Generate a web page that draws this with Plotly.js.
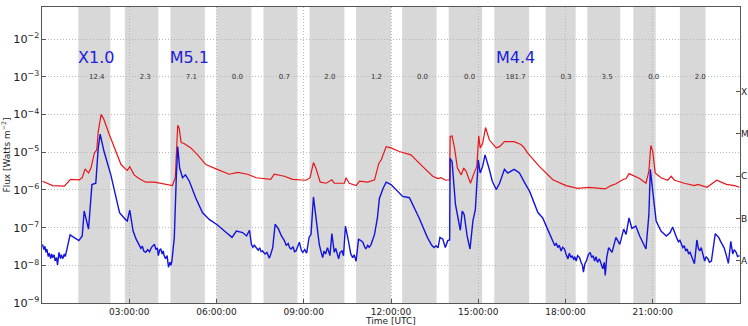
<!DOCTYPE html>
<html>
<head>
<meta charset="utf-8">
<script src="https://cdn.plot.ly/plotly-3.0.1.min.js"></script>
<style>
html,body{margin:0;padding:0;background:#fff;}
#chart{width:748px;height:326px;}
</style>
</head>
<body>
<div id="chart"></div>
<script>
const DAY = '2013-10-28 ';

// GOES long channel (1-8 Å), red
const longTimes = ['00:01','00:22','00:46','00:59','01:17','01:23','01:29','01:36','01:41','01:48','01:53','01:56','02:02','02:07','02:19','02:29','02:43','02:52','02:56','03:01','03:10','03:20','03:34','03:52','04:12','04:29','04:35','04:40','04:43','04:47','04:53','05:07','05:21','05:38','05:59','06:26','06:44','07:04','07:22','07:52','07:59','08:10','08:20','08:37','09:05','09:13','09:20','09:25','09:34','09:46','09:58','10:03','10:24','10:27','10:34','10:48','10:55','11:12','11:26','11:35','11:40','11:50','12:00','12:17','12:41','13:05','13:26','13:37','13:43','13:53','14:01','14:02','14:06','14:11','14:17','14:25','14:30','14:35','14:44','14:50','14:57','15:01','15:04','15:09','15:15','15:23','15:37','15:44','15:54','16:14','16:28','16:35','16:42','17:06','17:34','18:01','18:25','18:49','19:07','19:22','19:34','19:44','19:58','20:05','20:11','20:19','20:33','20:46','20:52','20:56','21:00','21:05','21:17','21:31','21:38','21:45','22:05','22:26','22:33','22:52','23:12','23:32','23:49','23:59'];
const longFlux = [1.7e-6,1.3e-6,1.25e-6,1.9e-6,1.85e-6,2.1e-6,3.6e-6,2.8e-6,3.8e-6,9.4e-6,1.15e-5,3.5e-5,1.0e-4,7.8e-5,2.9e-5,1.4e-5,4.7e-6,3.6e-6,3.3e-6,4.1e-6,2.5e-6,2.0e-6,1.6e-6,1.6e-6,1.45e-6,1.3e-6,2.1e-6,5.2e-5,4.3e-5,1.8e-5,1.7e-5,1.3e-5,8.5e-6,4.7e-6,3.6e-6,2.6e-6,2.9e-6,2.6e-6,2.1e-6,1.9e-6,2.6e-6,2.4e-6,2.3e-6,1.9e-6,1.8e-6,2.1e-6,5.3e-6,3.8e-6,1.6e-6,1.5e-6,1.85e-6,1.5e-6,1.5e-6,2.1e-6,1.5e-6,1.3e-6,1.7e-6,1.6e-6,1.85e-6,5.1e-6,6.3e-6,1.4e-5,1.3e-5,1.04e-5,8.5e-6,4.2e-6,2.3e-6,2.0e-6,2.1e-6,1.8e-6,1.85e-6,2.6e-5,2.7e-5,1.3e-5,3.8e-6,2.5e-6,3.8e-6,3.1e-6,1.5e-6,2.5e-6,4.2e-6,2.7e-5,1.3e-5,1.7e-5,4.5e-5,2.1e-5,1.3e-5,1.4e-5,1.9e-5,1.9e-5,1.6e-5,1.3e-5,9.4e-6,4.2e-6,1.85e-6,1.3e-6,1.1e-6,1.17e-6,1.1e-6,1.06e-6,1.3e-6,1.45e-6,1.85e-6,2.0e-6,2.7e-6,2.4e-6,2.0e-6,1.5e-6,3.1e-6,1.5e-5,1.05e-5,2.8e-6,2.1e-6,1.8e-6,2.3e-6,1.8e-6,1.5e-6,1.3e-6,1.4e-6,1.17e-6,1.8e-6,1.4e-6,1.3e-6,1.17e-6];

// GOES short channel (0.5-4 Å), blue: [time, flux]
const shortSeries = [
['00:01',3.6e-8],['00:04',2.6e-8],['00:06',3.2e-8],['00:08',2.2e-8],['00:10',2.7e-8],['00:13',1.7e-8],['00:15',2.1e-8],['00:18',1.5e-8],['00:20',2.0e-8],['00:22',1.6e-8],['00:25',1.9e-8],['00:27',1.3e-8],['00:30',1.6e-8],['00:32',1.03e-8],['00:35',2.2e-8],['00:38',1.5e-8],['00:40',1.9e-8],['00:43',1.5e-8],['00:46',2.0e-8],['00:48',1.7e-8],
['00:58',6.4e-8],['01:07',5.5e-8],['01:16',4.5e-8],['01:23',6.0e-8],['01:27',2.75e-7],['01:36',9.1e-8],['01:43',1.38e-6],['01:51',1.5e-6],['01:56',1.3e-5],['02:00',3.0e-5],['02:08',1.04e-5],['02:22',2.5e-6],['02:32',6.2e-7],['02:40',2.5e-7],['02:52',1.65e-7],['02:56',1.5e-7],['03:01',2.9e-7],['03:08',8.1e-8],['03:14',5.0e-8],
['03:20',3.6e-8],['03:24',2.8e-8],['03:27',3.2e-8],['03:30',2.4e-8],['03:34',2.2e-8],['03:38',2.6e-8],['03:42',2.3e-8],['03:46',3.0e-8],['03:52',3.6e-8],['03:55',2.6e-8],['03:58',2.9e-8],['04:00',1.8e-8],['04:03',2.6e-8],['04:05',2.7e-8],['04:08',2.0e-8],['04:10',2.4e-8],['04:12',1.8e-8],['04:15',1.5e-8],['04:18',1.8e-8],['04:21',8.9e-9],['04:24',1.2e-8],['04:26',1.0e-8],['04:28',1.3e-8],
['04:33',5.5e-8],['04:37',2.1e-6],['04:40',1.4e-5],['04:44',3.8e-6],['04:50',2.1e-6],['04:56',2.5e-6],['05:04',1.7e-6],['05:17',6.2e-7],['05:31',2.5e-7],['05:45',1.65e-7],['06:02',1.17e-7],['06:20',7.4e-8],['06:32',5.5e-8],['06:41',8.1e-8],['06:54',7.4e-8],['07:02',6.0e-8],['07:08',8.5e-8],
['07:12',3.6e-8],['07:15',3.0e-8],['07:18',3.4e-8],['07:22',2.9e-8],['07:26',2.5e-8],['07:29',2.9e-8],['07:32',2.3e-8],['07:35',2.4e-8],['07:40',2.0e-8],['07:44',2.2e-8],['07:49',1.55e-8],['07:52',2.0e-8],['07:56',2.95e-8],['08:01',1.23e-7],['08:08',9.1e-8],['08:14',6.0e-8],['08:20',4.5e-8],['08:24',3.4e-8],['08:28',3.8e-8],['08:31',2.9e-8],['08:34',2.7e-8],['08:38',3.1e-8],['08:41',2.3e-8],['08:44',2.4e-8],['08:47',3.2e-8],['08:51',4.1e-8],['08:55',2.5e-8],['08:58',2.2e-8],['09:02',2.6e-8],['09:06',2.1e-8],
['09:11',5.5e-8],['09:15',6.6e-8],['09:20',6.5e-7],['09:26',1.8e-7],['09:32',3.6e-8],['09:36',2.2e-8],['09:39',1.6e-8],['09:42',2.4e-8],['09:45',2.0e-8],['09:49',2.95e-8],['09:54',1.8e-8],['09:58',6.9e-8],['10:03',2.2e-8],['10:06',2.8e-8],['10:09',1.9e-8],['10:12',1.48e-8],['10:15',2.2e-8],['10:19',2.4e-8],['10:22',1.8e-8],['10:26',1.1e-7],['10:32',4.5e-8],['10:37',2.0e-8],['10:41',1.6e-8],['10:44',1.9e-8],['10:48',1.28e-8],['10:53',4.9e-8],['10:57',4.6e-8],['11:02',4.1e-8],['11:05',3.2e-8],['11:08',2.7e-8],['11:12',3.4e-8],['11:15',3.0e-8],['11:19',3.6e-8],
['11:26',6.6e-8],['11:32',1.8e-7],['11:36',5.9e-7],['11:44',1.12e-6],['11:50',1.6e-6],['12:00',1.38e-6],['12:13',9.1e-7],['12:18',7.8e-7],['12:24',6.7e-7],['12:38',6.2e-7],['12:58',1.8e-7],['13:15',5.5e-8],['13:20',4.0e-8],['13:24',3.4e-8],['13:29',2.95e-8],['13:33',3.3e-8],['13:37',2.9e-8],['13:41',5.5e-8],['13:47',4.9e-8],['13:52',2.95e-8],['13:57',4.5e-8],['14:01',4.7e-8],
['14:02',6.9e-6],['14:06',5.6e-6],['14:13',4.1e-7],['14:20',1.23e-7],['14:23',8.5e-8],['14:27',2.75e-7],['14:31',2.2e-7],['14:37',6.0e-8],['14:43',2.7e-8],['14:49',1.5e-7],['14:54',3.0e-7],['15:00',6.3e-6],['15:04',2.8e-6],['15:09',4.2e-6],['15:14',8.5e-6],['15:22',3.8e-6],['15:29',1.7e-6],['15:37',1.02e-6],['15:44',1.5e-6],['15:54',3.5e-6],['16:01',2.8e-6],['16:14',3.5e-6],['16:25',2.8e-6],['16:35',1.6e-6],['16:46',9.1e-7],['17:03',2.5e-7],['17:13',1.8e-7],['17:23',9.1e-8],
['17:34',4.1e-8],['17:38',3.3e-8],['17:41',3.9e-8],['17:44',2.95e-8],['17:47',3.4e-8],['17:51',2.4e-8],['17:54',3.0e-8],['17:58',2.7e-8],['18:01',2.0e-8],['18:05',1.48e-8],['18:08',2.1e-8],['18:11',1.6e-8],['18:14',1.8e-8],['18:17',1.4e-8],['18:19',1.7e-8],['18:22',1.3e-8],['18:25',1.8e-8],['18:29',1.6e-8],['18:32',1.2e-8],['18:35',1.0e-8],['18:37',6.6e-9],['18:40',1.1e-8],['18:43',1.3e-8],['18:47',1.9e-8],['18:51',2.2e-8],['18:54',1.6e-8],['18:57',1.8e-8],['19:00',1.3e-8],['19:03',1.7e-8],['19:06',1.2e-8],['19:10',1.48e-8],['19:13',1.1e-8],['19:17',8.1e-9],['19:20',1.2e-8],['19:22',5.4e-9],['19:25',1.6e-8],
['19:29',2.95e-8],['19:36',2.2e-8],['19:44',5.5e-8],['19:52',3.6e-8],['20:00',9.1e-8],['20:05',6.6e-8],['20:11',1.8e-7],['20:17',9.5e-8],['20:25',1.1e-7],['20:33',6.0e-8],['20:41',3.8e-8],['20:46',2.7e-8],['20:52',2.2e-7],['20:55',3.5e-6],['21:00',9.1e-7],['21:07',1.5e-7],['21:17',8.1e-8],['21:28',6.0e-8],['21:36',7.4e-8],['21:41',1.04e-7],
['21:49',5.5e-8],['21:53',4.2e-8],['21:56',4.6e-8],['21:59',3.4e-8],['22:02',2.95e-8],['22:05',3.3e-8],['22:08',2.4e-8],['22:11',2.7e-8],['22:14',2.0e-8],['22:17',2.2e-8],['22:19',1.8e-8],['22:22',1.5e-8],['22:26',1.1e-8],['22:31',4.7e-8],['22:34',2.8e-8],['22:37',2.4e-8],['22:40',2.95e-8],['22:44',1.8e-8],['22:47',1.3e-8],['22:50',1.7e-8],['22:54',1.48e-8],['22:57',1.2e-8],['23:01',1.3e-8],['23:09',6.9e-8],['23:16',5.5e-8],['23:20',4.3e-8],['23:24',3.5e-8],['23:27',2.95e-8],['23:31',2.0e-8],['23:34',1.5e-8],['23:36',1.12e-8],['23:41',4.3e-8],['23:45',2.0e-8],['23:48',2.6e-8],['23:52',2.2e-8],['23:55',1.7e-8],['23:59',1.8e-8]
];

// shaded intervals and their numbers
const bandStart = ['01:15','02:51','04:25','06:00','07:37','09:12','10:48','12:23','13:59','15:33','17:19','18:45','20:20','21:56'];
const bandEnd   = ['02:21','04:00','05:36','07:12','08:47','10:24','12:00','13:34','15:08','16:45','18:21','19:53','21:06','22:49'];
const bandLabelTimes = ['01:53','03:33','05:08','06:43','08:20','09:54','11:30','13:05','14:42','16:17','18:01','19:26','21:02','22:38'];
const bandLabels = ['12.4','2.3','7.1','0.0','0.7','2.0','1.2','0.0','0.0','181.7','0.3','3.5','0.0','2.0'];
const bandLabelLevel = 1e-3;

// flare labels
const flareTimes = ['01:52','05:04','16:17'];
const flareLabels = ['X1.0','M5.1','M4.4'];
const flareLabelLevel = 2.9e-3;

// x ticks
const xTickTimes = ['03:00','06:00','09:00','12:00','15:00','18:00','21:00'];
// GOES class labels (right axis)
const classLevels = [1,2,3,4,5];
const classLabels = ['A','B','C','M','X'];

const T = t => DAY + t;
const FONT = 'DejaVu Sans, sans-serif';

const traces = [
  {x: longTimes.map(T), y: longFlux, type:'scatter', mode:'lines',
   line:{color:'#e8161a', width:1.2}, hoverinfo:'skip', showlegend:false},
  {x: shortSeries.map(p => T(p[0])), y: shortSeries.map(p => p[1]), type:'scatter', mode:'lines',
   line:{color:'#1414dc', width:1.4}, hoverinfo:'skip', showlegend:false},
  {x: bandLabelTimes.map(T), y: bandLabels.map(() => bandLabelLevel), text: bandLabels,
   type:'scatter', mode:'text', textposition:'middle center',
   textfont:{family:FONT, size:7, color:'#333'}, hoverinfo:'skip', showlegend:false, cliponaxis:false},
  {x: flareTimes.map(T), y: flareLabels.map(() => flareLabelLevel), text: flareLabels,
   type:'scatter', mode:'text', textposition:'middle center',
   textfont:{family:FONT, size:16, color:'#2020d8'}, hoverinfo:'skip', showlegend:false, cliponaxis:false},
  {x:[null], y:[null], yaxis:'y2', type:'scatter', mode:'lines', showlegend:false, hoverinfo:'skip'}
];

const shapes = bandStart.map((s,i) => ({
  type:'rect', xref:'x', yref:'paper', x0:T(s), x1:T(bandEnd[i]), y0:0, y1:1,
  fillcolor:'#d8d8d8', line:{width:0}, layer:'below'
}));

const GRID = '#b8b8b8';
const layout = {
  width:748, height:326,
  margin:{l:42, r:8, t:7, b:23},
  paper_bgcolor:'#fff', plot_bgcolor:'#fff',
  font:{family:FONT, size:9, color:'#222'},
  showlegend:false,
  xaxis:{
    type:'date', range:[T('00:00'), DAY.trim()+' 23:59:59'],
    tickvals: xTickTimes.map(T), tickformat:'%H:%M:%S',
    showgrid:true, gridcolor:GRID, griddash:'1px,2px', gridwidth:1,
    showline:true, linecolor:'#555', linewidth:1, mirror:true,
    ticks:'inside', ticklen:4, tickcolor:'#555',
    tickfont:{family:FONT, size:9, color:'#222'},
    title:{text:'Time [UTC]', font:{family:FONT, size:9, color:'#222'}, standoff:1},
    zeroline:false
  },
  yaxis:{
    type:'log', range:[-9, -1.15], dtick:1, exponentformat:'power',
    showgrid:true, gridcolor:GRID, griddash:'1px,2px', gridwidth:1,
    showline:true, linecolor:'#555', linewidth:1, mirror:true,
    ticks:'inside', ticklen:4, tickcolor:'#555',
    tickfont:{family:FONT, size:9, color:'#222'},
    title:{text:'Flux [Watts m<sup>−2</sup>]', font:{family:FONT, size:9, color:'#222'}, standoff:4},
    zeroline:false
  },
  yaxis2:{
    overlaying:'y', side:'right', range:[0,7],
    tickvals: classLevels, ticktext: classLabels,
    ticks:'inside', ticklen:4, tickcolor:'#555',
    showgrid:false, zeroline:false, showline:false,
    tickfont:{family:FONT, size:9, color:'#222'}
  },
  shapes: shapes
};

Plotly.newPlot('chart', traces, layout, {displayModeBar:false});
</script>
</body>
</html>
